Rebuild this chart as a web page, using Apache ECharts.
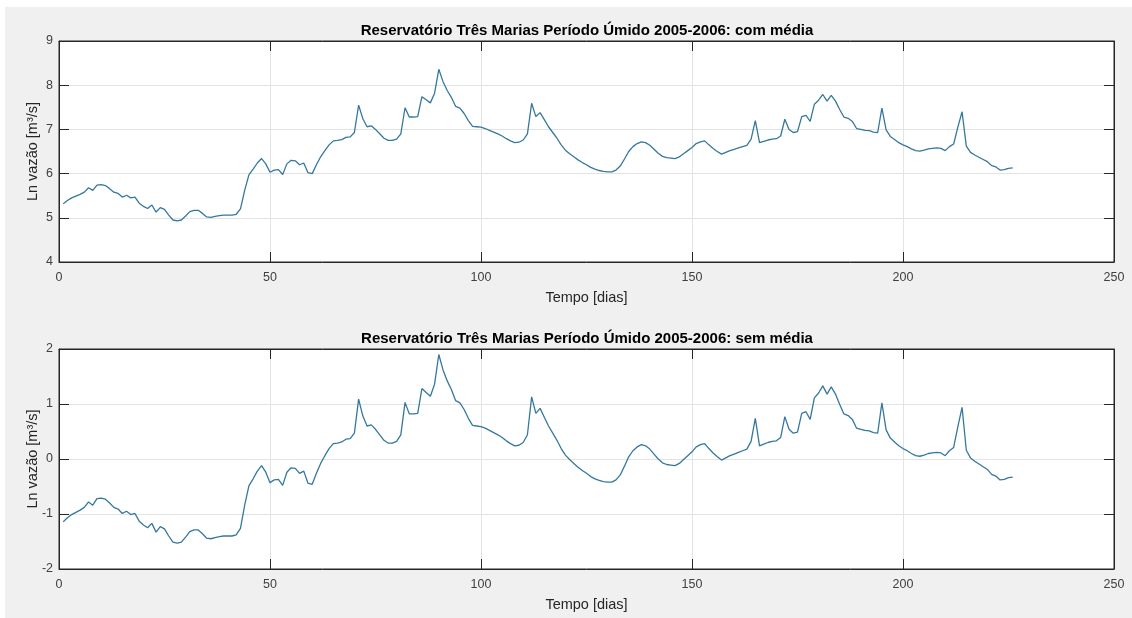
<!DOCTYPE html>
<html>
<head>
<meta charset="utf-8">
<script src="https://cdn.jsdelivr.net/npm/echarts@6/dist/echarts.min.js"></script>
<style>
html,body{margin:0;padding:0;background:#ffffff;}
#c{width:1132px;height:618px;}
</style>
</head>
<body>
<div id="c"></div>
<script>
// Ln vazão (com média), one value per day, days 1..226
var comMedia = [
5.32,5.39,5.45,5.49,5.53,5.58,5.68,5.62,5.74,5.75,
5.73,5.66,5.58,5.55,5.47,5.51,5.45,5.47,5.33,5.26,
5.21,5.29,5.13,5.23,5.19,5.06,4.95,4.93,4.95,5.04,
5.14,5.17,5.17,5.10,5.02,5.01,5.03,5.05,5.06,5.06,
5.06,5.08,5.20,5.62,5.97,6.10,6.24,6.34,6.22,6.03,
6.08,6.09,5.98,6.22,6.30,6.29,6.20,6.24,6.02,6.00,
6.20,6.38,6.52,6.65,6.74,6.75,6.77,6.82,6.83,6.93,
7.55,7.24,7.06,7.08,7.00,6.90,6.80,6.75,6.75,6.78,
6.90,7.49,7.28,7.28,7.29,7.74,7.67,7.60,7.82,8.36,
8.08,7.88,7.72,7.52,7.48,7.36,7.20,7.07,7.06,7.05,
7.02,6.98,6.94,6.90,6.85,6.79,6.74,6.70,6.71,6.76,
6.90,7.59,7.29,7.38,7.22,7.06,6.93,6.80,6.65,6.53,
6.45,6.38,6.31,6.25,6.20,6.14,6.10,6.07,6.05,6.04,
6.04,6.08,6.17,6.33,6.50,6.61,6.68,6.72,6.70,6.64,
6.55,6.46,6.39,6.36,6.35,6.34,6.38,6.45,6.52,6.59,
6.68,6.72,6.74,6.65,6.57,6.50,6.44,6.48,6.52,6.55,
6.58,6.61,6.64,6.78,7.20,6.70,6.73,6.76,6.78,6.79,
6.85,7.23,7.00,6.93,6.95,7.29,7.32,7.18,7.57,7.66,
7.79,7.64,7.77,7.64,7.45,7.28,7.25,7.18,7.02,7.00,
6.98,6.97,6.94,6.93,7.48,6.99,6.84,6.77,6.70,6.65,
6.61,6.56,6.52,6.51,6.53,6.56,6.57,6.58,6.57,6.52,
6.61,6.67,7.05,7.40,6.62,6.48,6.42,6.37,6.32,6.27,
6.18,6.15,6.08,6.09,6.12,6.13
];
// Ln vazão (sem média), one value per day, days 1..226
var semMedia = [
-1.14,-1.07,-1.01,-0.97,-0.93,-0.88,-0.78,-0.84,-0.72,-0.71,
-0.73,-0.80,-0.88,-0.91,-0.99,-0.95,-1.01,-0.99,-1.13,-1.20,
-1.25,-1.17,-1.33,-1.23,-1.27,-1.40,-1.51,-1.53,-1.51,-1.42,
-1.32,-1.29,-1.29,-1.36,-1.44,-1.45,-1.43,-1.41,-1.40,-1.40,
-1.40,-1.38,-1.26,-0.84,-0.49,-0.36,-0.22,-0.12,-0.24,-0.43,
-0.38,-0.37,-0.48,-0.24,-0.16,-0.17,-0.26,-0.22,-0.44,-0.46,
-0.26,-0.08,0.06,0.19,0.28,0.29,0.31,0.36,0.37,0.47,
1.09,0.78,0.60,0.62,0.54,0.44,0.34,0.29,0.29,0.32,
0.44,1.03,0.82,0.82,0.83,1.28,1.21,1.14,1.36,1.90,
1.62,1.42,1.26,1.06,1.02,0.90,0.74,0.61,0.60,0.59,
0.56,0.52,0.48,0.44,0.39,0.33,0.28,0.24,0.25,0.30,
0.44,1.13,0.83,0.92,0.76,0.60,0.47,0.34,0.19,0.07,
-0.01,-0.08,-0.15,-0.21,-0.26,-0.32,-0.36,-0.39,-0.41,-0.42,
-0.42,-0.38,-0.29,-0.13,0.04,0.15,0.22,0.26,0.24,0.18,
0.09,0.00,-0.07,-0.10,-0.11,-0.12,-0.08,-0.01,0.06,0.13,
0.22,0.26,0.28,0.19,0.11,0.04,-0.02,0.02,0.06,0.09,
0.12,0.15,0.18,0.32,0.74,0.24,0.27,0.30,0.32,0.33,
0.39,0.77,0.54,0.47,0.49,0.83,0.86,0.72,1.11,1.20,
1.33,1.18,1.31,1.18,0.99,0.82,0.79,0.72,0.56,0.54,
0.52,0.51,0.48,0.47,1.02,0.53,0.38,0.31,0.24,0.19,
0.15,0.10,0.06,0.05,0.07,0.10,0.11,0.12,0.11,0.06,
0.15,0.21,0.59,0.94,0.16,0.02,-0.04,-0.09,-0.14,-0.19,
-0.28,-0.31,-0.38,-0.37,-0.34,-0.33
];
var titleTop = 'Reservatório Três Marias Período Úmido 2005-2006: com média';
var titleBottom = 'Reservatório Três Marias Período Úmido 2005-2006: sem média';
var xName = 'Tempo [dias]';
var yName = 'Ln vazão [m³/s]';

function pairs(vals){ var out=[]; for(var i=0;i<vals.length;i++){ out.push([i+1, vals[i]]); } return out; }

var axisColor = '#262626';
var gridColor = '#e3e3e3';
var font = 'Liberation Sans, Arial, Helvetica, sans-serif';

function mainX(gi){
  return {gridIndex:gi, type:'value', min:0, max:250, interval:50, position:'bottom',
    name:xName, nameLocation:'middle', nameGap:28, nameMoveOverlap:false,
    nameTextStyle:{color:axisColor, fontSize:14.5, fontFamily:font},
    axisLine:{onZero:false, lineStyle:{color:axisColor}},
    axisTick:{inside:true, length:10, lineStyle:{color:axisColor}},
    axisLabel:{color:'#404040', fontSize:12.5, fontFamily:font, margin:9},
    splitLine:{show:true, lineStyle:{color:gridColor}}};
}
function topX(gi){
  return {gridIndex:gi, type:'value', min:0, max:250, interval:50, position:'top',
    axisLine:{onZero:false, lineStyle:{color:axisColor}},
    axisTick:{inside:true, length:10, lineStyle:{color:axisColor}},
    axisLabel:{show:false}, splitLine:{show:false}};
}
function mainY(gi, mn, mx){
  return {gridIndex:gi, type:'value', min:mn, max:mx, interval:1, position:'left',
    name:yName, nameLocation:'middle', nameGap:19, nameRotate:90, nameMoveOverlap:false,
    nameTextStyle:{color:axisColor, fontSize:14.5, fontFamily:font},
    axisLine:{show:true, onZero:false, lineStyle:{color:axisColor}},
    axisTick:{show:true, inside:true, length:10, lineStyle:{color:axisColor}},
    axisLabel:{color:'#404040', fontSize:12.5, fontFamily:font, margin:6},
    splitLine:{show:true, lineStyle:{color:gridColor}}};
}
function rightY(gi, mn, mx){
  return {gridIndex:gi, type:'value', min:mn, max:mx, interval:1, position:'right',
    axisLine:{show:true, onZero:false, lineStyle:{color:axisColor}},
    axisTick:{show:true, inside:true, length:10, lineStyle:{color:axisColor}},
    axisLabel:{show:false}, splitLine:{show:false}};
}

var chart = echarts.init(document.getElementById('c'), null, {renderer:'canvas'});
chart.setOption({
  backgroundColor:'#ffffff',
  animation:false,
  graphic:[{type:'rect', left:5, top:7, shape:{width:1127, height:611}, style:{fill:'#f0f0f0'}, z:-10}],
  title:[
    {text:titleTop, left:582, top:18, textAlign:'center',
     textStyle:{fontSize:15, fontWeight:'bold', color:'#000', fontFamily:font}},
    {text:titleBottom, left:582, top:326, textAlign:'center',
     textStyle:{fontSize:15, fontWeight:'bold', color:'#000', fontFamily:font}}
  ],
  grid:[
    {left:59, right:18, top:41, height:221, show:true, backgroundColor:'#ffffff', borderColor:axisColor, borderWidth:1},
    {left:59, right:18, top:349, height:220, show:true, backgroundColor:'#ffffff', borderColor:axisColor, borderWidth:1}
  ],
  xAxis:[mainX(0), topX(0), mainX(1), topX(1)],
  yAxis:[mainY(0,4,9), rightY(0,4,9), mainY(1,-2,2), rightY(1,-2,2)],
  series:[
    {type:'line', xAxisIndex:0, yAxisIndex:0, data:pairs(comMedia), showSymbol:false,
     lineStyle:{color:'#35789e', width:1.3}},
    {type:'line', xAxisIndex:2, yAxisIndex:2, data:pairs(semMedia), showSymbol:false,
     lineStyle:{color:'#35789e', width:1.3}}
  ]
});
</script>
</body>
</html>
